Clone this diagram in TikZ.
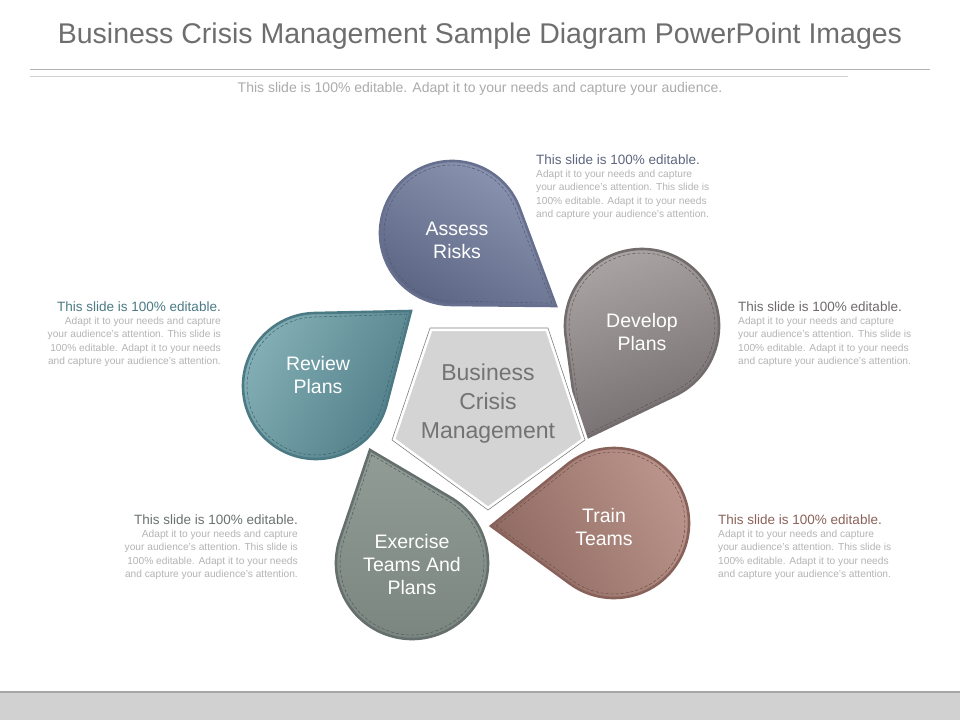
\documentclass[tikz,border=0pt]{standalone}
\usepackage{fontspec}
\setmainfont{Liberation Sans}
\usetikzlibrary{calc}
\definecolor{ttl}{HTML}{6E6E6E}
\definecolor{sub}{HTML}{ABABAB}
\definecolor{body}{HTML}{B4B4B4}
\definecolor{aL}{HTML}{8F98B4}\definecolor{aD}{HTML}{5C6684}\definecolor{aB}{HTML}{66708E}
\definecolor{dL}{HTML}{ACA5A5}\definecolor{dD}{HTML}{736C6E}\definecolor{dB}{HTML}{726C6D}
\definecolor{tL}{HTML}{BC968C}\definecolor{tD}{HTML}{8F6A62}\definecolor{tB}{HTML}{88625A}
\definecolor{eL}{HTML}{929C97}\definecolor{eD}{HTML}{7A8580}\definecolor{eB}{HTML}{65706E}
\definecolor{rL}{HTML}{83AEB5}\definecolor{rD}{HTML}{4F7D87}\definecolor{rB}{HTML}{4C7A84}
\definecolor{h1c}{HTML}{5E6680}\definecolor{h2c}{HTML}{6E6A6B}\definecolor{h3c}{HTML}{8A6259}
\definecolor{h4c}{HTML}{6A7270}\definecolor{h5c}{HTML}{4B7A84}
\tikzset{
 head/.style={font=\fontsize{13.5}{15}\selectfont, inner sep=0pt},
 bodytxt/.style={font=\fontsize{10.2}{13.3}\selectfont, text=body, inner sep=0pt},
 plabel/.style={font=\fontsize{19.5}{23}\selectfont, text=white, align=center},
}
% #1 center, #2 point, #3 radius, #4 light, #5 dark, #6 border, #7 shading angle
\newcommand\mypetal[7]{%
 \path[draw=#6, line width=2.6pt, top color=#4, bottom color=#5, shading angle=#7]
  let \p1=($(#2)-(#1)$), \n1={veclen(\x1,\y1)}, \n2={atan2(\y1,\x1)}, \n3={acos(#3/\n1)} in
  (#2) -- ($(#1)+(\n2+\n3:#3pt)$) arc[start angle=\n2+\n3, end angle=\n2-\n3+360, radius=#3pt] -- cycle;
 \path[draw=#6!80!black, densely dashed, line width=0.5pt]
  let \p1=($(#2)-(#1)$), \n1={veclen(\x1,\y1)}, \n2={atan2(\y1,\x1)},
      \n4={\n1-4/sin(acos(#3/\n1))}, \n3={acos((#3-4)/\n4)} in
  ($(#1)+(\n2:\n4)$) -- ($(#1)+(\n2+\n3:#3pt-4pt)$) arc[start angle=\n2+\n3, end angle=\n2-\n3+360, radius=#3pt-4pt] -- cycle;
}
\begin{document}
\begin{tikzpicture}[x=1pt,y=-1pt]
\useasboundingbox (0,0) rectangle (960,720);
\fill[white] (0,0) rectangle (960,720);
% footer
\fill[black!18] (0,692) rectangle (960,720);
\draw[black!35, line width=1.5pt] (0,692) -- (960,692);
% title
\node[font=\fontsize{28.5}{32}\selectfont, text=ttl] (title) at (480,36) {Business Crisis Management Sample Diagram PowerPoint Images};
\draw[black!30, line width=0.8pt] (30,69) -- (930,69);
\draw[black!18, line width=0.8pt] (30,76) -- (848,76);
\node[font=\fontsize{14}{16}\selectfont, text=sub] (subt) at (480,89) {This slide is 100\% editable. Adapt it to your needs and capture your audience.};
% coordinates
\coordinate (c1) at (452,233); \coordinate (p1) at (556,306);
\coordinate (c2) at (642,326); \coordinate (p2) at (580,441);
\coordinate (c3) at (614,523); \coordinate (p3) at (491,526);
\coordinate (c4) at (412,563); \coordinate (p4) at (370,450);
\coordinate (c5) at (316,386); \coordinate (p5) at (411,311);
\mypetal{c1}{p1}{72}{aL}{aD}{aB}{-30}
\mypetal{c2}{p2}{77}{dL}{dD}{dB}{20}
\mypetal{c3}{p3}{75}{tL}{tD}{tB}{-60}
\mypetal{c4}{p4}{76}{eL}{eD}{eB}{0}
\mypetal{c5}{p5}{73}{rL}{rD}{rB}{60}
% pentagon
\draw[white, line width=6pt, fill=black!17] (430,328) -- (548,328) -- (585,440) -- (488,510) -- (392,440) -- cycle;
\draw[black!50, line width=0.6pt] (430,328) -- (548,328) -- (585,440) -- (488,510) -- (392,440) -- cycle;
\node[font=\fontsize{23}{29}\selectfont, text=black!55, align=center] (center) at (488,404) {Business\\Crisis\\Management};
% petal labels
\node[plabel] (l1) at (457,240) {Assess\\Risks};
\node[plabel] (l2) at (642,332) {Develop\\Plans};
\node[plabel] (l3) at (604,527) {Train\\Teams};
\node[plabel] (l4) at (412,565) {Exercise\\Teams And\\Plans};
\node[plabel] (l5) at (318,375) {Review\\Plans};
% text blocks
\node[head, text=h1c, anchor=north west] (h1) at (536,155) {This slide is 100\% editable.};
\node[bodytxt, anchor=north west, align=left] (b1) at (536,170) {Adapt it to your needs and capture\\your audience's attention. This slide is\\100\% editable. Adapt it to your needs\\and capture your audience's attention.};
\node[head, text=h2c, anchor=north west] (h2) at (738,302) {This slide is 100\% editable.};
\node[bodytxt, anchor=north west, align=left] (b2) at (738,317) {Adapt it to your needs and capture\\your audience's attention. This slide is\\100\% editable. Adapt it to your needs\\and capture your audience's attention.};
\node[head, text=h3c, anchor=north west] (h3) at (718,515) {This slide is 100\% editable.};
\node[bodytxt, anchor=north west, align=left] (b3) at (718,530) {Adapt it to your needs and capture\\your audience's attention. This slide is\\100\% editable. Adapt it to your needs\\and capture your audience's attention.};
\node[head, text=h4c, anchor=north east] (h4) at (298,515) {This slide is 100\% editable.};
\node[bodytxt, anchor=north east, align=right] (b4) at (298,530) {Adapt it to your needs and capture\\your audience's attention. This slide is\\100\% editable. Adapt it to your needs\\and capture your audience's attention.};
\node[head, text=h5c, anchor=north east] (h5) at (221,302) {This slide is 100\% editable.};
\node[bodytxt, anchor=north east, align=right] (b5) at (221,317) {Adapt it to your needs and capture\\your audience's attention. This slide is\\100\% editable. Adapt it to your needs\\and capture your audience's attention.};
\end{tikzpicture}
\end{document}
